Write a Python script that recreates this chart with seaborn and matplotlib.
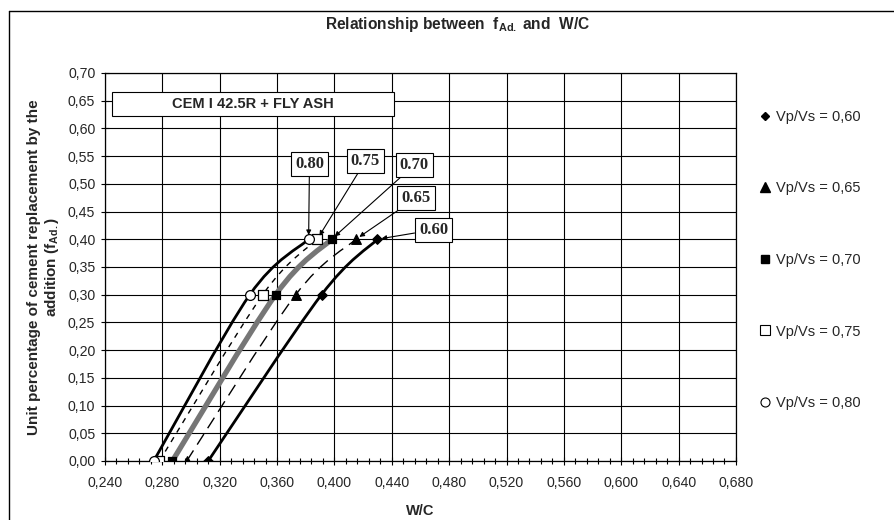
import numpy as np
import pandas as pd
import matplotlib
matplotlib.use("Agg")
import matplotlib.pyplot as plt
from matplotlib.path import Path
from matplotlib.patches import PathPatch
from matplotlib.lines import Line2D
from matplotlib.ticker import MultipleLocator, FuncFormatter
import seaborn as sns

# f_Ad. levels (y) and the W/C needed for each Vp/Vs ratio
f_ad = [0.00, 0.30, 0.40]
wc_060 = [0.312, 0.391, 0.430]
wc_065 = [0.297, 0.373, 0.415]
wc_070 = [0.287, 0.359, 0.398]
wc_075 = [0.278, 0.350, 0.388]
wc_080 = [0.274, 0.341, 0.382]

series_names = ["Vp/Vs = 0,60", "Vp/Vs = 0,65", "Vp/Vs = 0,70",
                "Vp/Vs = 0,75", "Vp/Vs = 0,80"]
callout_text = ["0.60", "0.65", "0.70", "0.75", "0.80"]
callout_pos = [(0.4692, 0.417), (0.457, 0.4745), (0.4557, 0.534),
               (0.4216, 0.541), (0.3826, 0.536)]

sns.set_style("white")
plt.rcParams["font.family"] = ["Liberation Sans", "DejaVu Sans"]
plt.rcParams["mathtext.fontset"] = "custom"
plt.rcParams["mathtext.rm"] = "Liberation Sans"
plt.rcParams["mathtext.bf"] = "Liberation Sans:bold"
plt.rcParams["mathtext.it"] = "Liberation Sans:italic"

all_wc = [wc_060, wc_065, wc_070, wc_075, wc_080]
styles = [
    dict(marker="D", face="black", color="black", lw=2.0, ls="-", ms=24),
    dict(marker="^", face="black", color="black", lw=1.0, ls=(0, (9, 5)), ms=48),
    dict(marker="s", face="black", color="#767676", lw=3.8, ls="-", ms=40),
    dict(marker="s", face="white", color="black", lw=1.0, ls=(0, (4, 4)), ms=50),
    dict(marker="o", face="white", color="black", lw=2.0, ls="-", ms=50),
]

rows = []
for name, wc in zip(series_names, all_wc):
    for x, y in zip(wc, f_ad):
        rows.append({"series": name, "wc": x, "fad": y})
df = pd.DataFrame(rows)

fig = plt.figure(figsize=(8.95, 5.2), dpi=100)
ax = fig.add_axes([0.1173, 0.1135, 0.7050, 0.7462])


def smooth_path(xs, ys):
    """Cubic Bezier through the points (Catmull-Rom style smoothing)."""
    pts = np.column_stack([xs, ys]).astype(float)
    ext = np.vstack([pts[0], pts, pts[-1]])
    verts = [tuple(pts[0])]
    codes = [Path.MOVETO]
    for i in range(len(pts) - 1):
        p0, p1, p2, p3 = ext[i], ext[i + 1], ext[i + 2], ext[i + 3]
        c1 = p1 + (p2 - p0) / 6.0
        c2 = p2 - (p3 - p1) / 6.0
        verts += [tuple(c1), tuple(c2), tuple(p2)]
        codes += [Path.CURVE4] * 3
    return Path(verts, codes)


for name, wc, st in zip(series_names, all_wc, styles):
    patch = PathPatch(smooth_path(wc, f_ad), fill=False, edgecolor=st["color"],
                      lw=st["lw"], linestyle=st["ls"], zorder=3,
                      capstyle="butt")
    ax.add_patch(patch)
    sub = df[df["series"] == name]
    sns.scatterplot(data=sub, x="wc", y="fad", marker=st["marker"],
                    s=st["ms"], color=st["face"], edgecolor="black",
                    linewidth=0.9, ax=ax, zorder=4, legend=False)

ax.set_xlim(0.240, 0.680)
ax.set_ylim(0.0, 0.70)
ax.xaxis.set_major_locator(MultipleLocator(0.040))
ax.xaxis.set_minor_locator(MultipleLocator(0.008))
ax.yaxis.set_major_locator(MultipleLocator(0.05))
ax.xaxis.set_major_formatter(FuncFormatter(lambda v, p: f"{v:.3f}".replace(".", ",")))
ax.yaxis.set_major_formatter(FuncFormatter(lambda v, p: f"{v:.2f}".replace(".", ",")))
ax.grid(True, which="major", color="black", lw=0.8)
ax.set_axisbelow(True)
for sp in ax.spines.values():
    sp.set_color("black")
    sp.set_linewidth(0.9)
ax.tick_params(axis="both", which="major", direction="inout", length=6,
               width=0.8, color="black", labelsize=10.2)
ax.tick_params(axis="x", which="major", pad=8)
ax.tick_params(axis="y", which="major", pad=4)
ax.tick_params(axis="x", which="minor", direction="inout", length=4,
               width=0.8, color="black", bottom=True)
ax.tick_params(left=True, bottom=True)

ax.set_xlabel("W/C", fontsize=10.5, fontweight="bold", labelpad=10)
ax.set_ylabel("Unit percentage of cement replacement by the\n"
              r"addition ($\mathbf{f_{Ad.}}$)", fontsize=11, fontweight="bold",
              labelpad=5, linespacing=1.15)
fig.text(0.511, 0.953, r"Relationship between  $\mathbf{f_{Ad.}}$ and  W/C",
         fontsize=11.2, fontweight="bold", ha="center", va="center")

# series box
ax.add_patch(plt.Rectangle((0.2449, 0.6224), 0.1969, 0.0433, fc="white",
                           ec="black", lw=0.8, zorder=5))
ax.text(0.343, 0.644, "CEM I 42.5R + FLY ASH", fontsize=10.5,
        fontweight="bold", ha="center", va="center", zorder=6)

# callouts pointing to the top point of each curve
for wc, txt, pos in zip(all_wc, callout_text, callout_pos):
    ax.annotate(txt, xy=(wc[-1], f_ad[-1]), xytext=pos,
                fontsize=12, fontweight="bold", family="Liberation Serif",
                ha="center", va="center", zorder=7,
                bbox=dict(boxstyle="square,pad=0.25", fc="white", ec="black",
                          lw=0.8),
                arrowprops=dict(arrowstyle="-|>", color="black", lw=0.8,
                                mutation_scale=7, shrinkA=0, shrinkB=3))

# legend at the right
handles = [
    Line2D([], [], ls="none", marker="D", ms=4.5, mfc="black", mec="black"),
    Line2D([], [], ls="none", marker="^", ms=6.5, mfc="black", mec="black"),
    Line2D([], [], ls="none", marker="s", ms=5.5, mfc="black", mec="black"),
    Line2D([], [], ls="none", marker="s", ms=6.5, mfc="white", mec="black", mew=0.8),
    Line2D([], [], ls="none", marker="o", ms=6.5, mfc="white", mec="black", mew=0.8),
]
fig.legend(handles, series_names, loc="upper left",
           bbox_to_anchor=(0.842, 0.803), frameon=False, fontsize=10.5,
           labelspacing=3.95, handlelength=0.6, handletextpad=0.45,
           borderpad=0)

# outer chart frame (top and left edges)
fig.add_artist(Line2D([9 / 895, 1.0], [1 - 11 / 520, 1 - 11 / 520],
                      transform=fig.transFigure, color="black", lw=1.0))
fig.add_artist(Line2D([9 / 895, 9 / 895], [0.0, 1 - 11 / 520],
                      transform=fig.transFigure, color="black", lw=1.0))

fig.savefig("out.png", dpi=100, facecolor="white")
